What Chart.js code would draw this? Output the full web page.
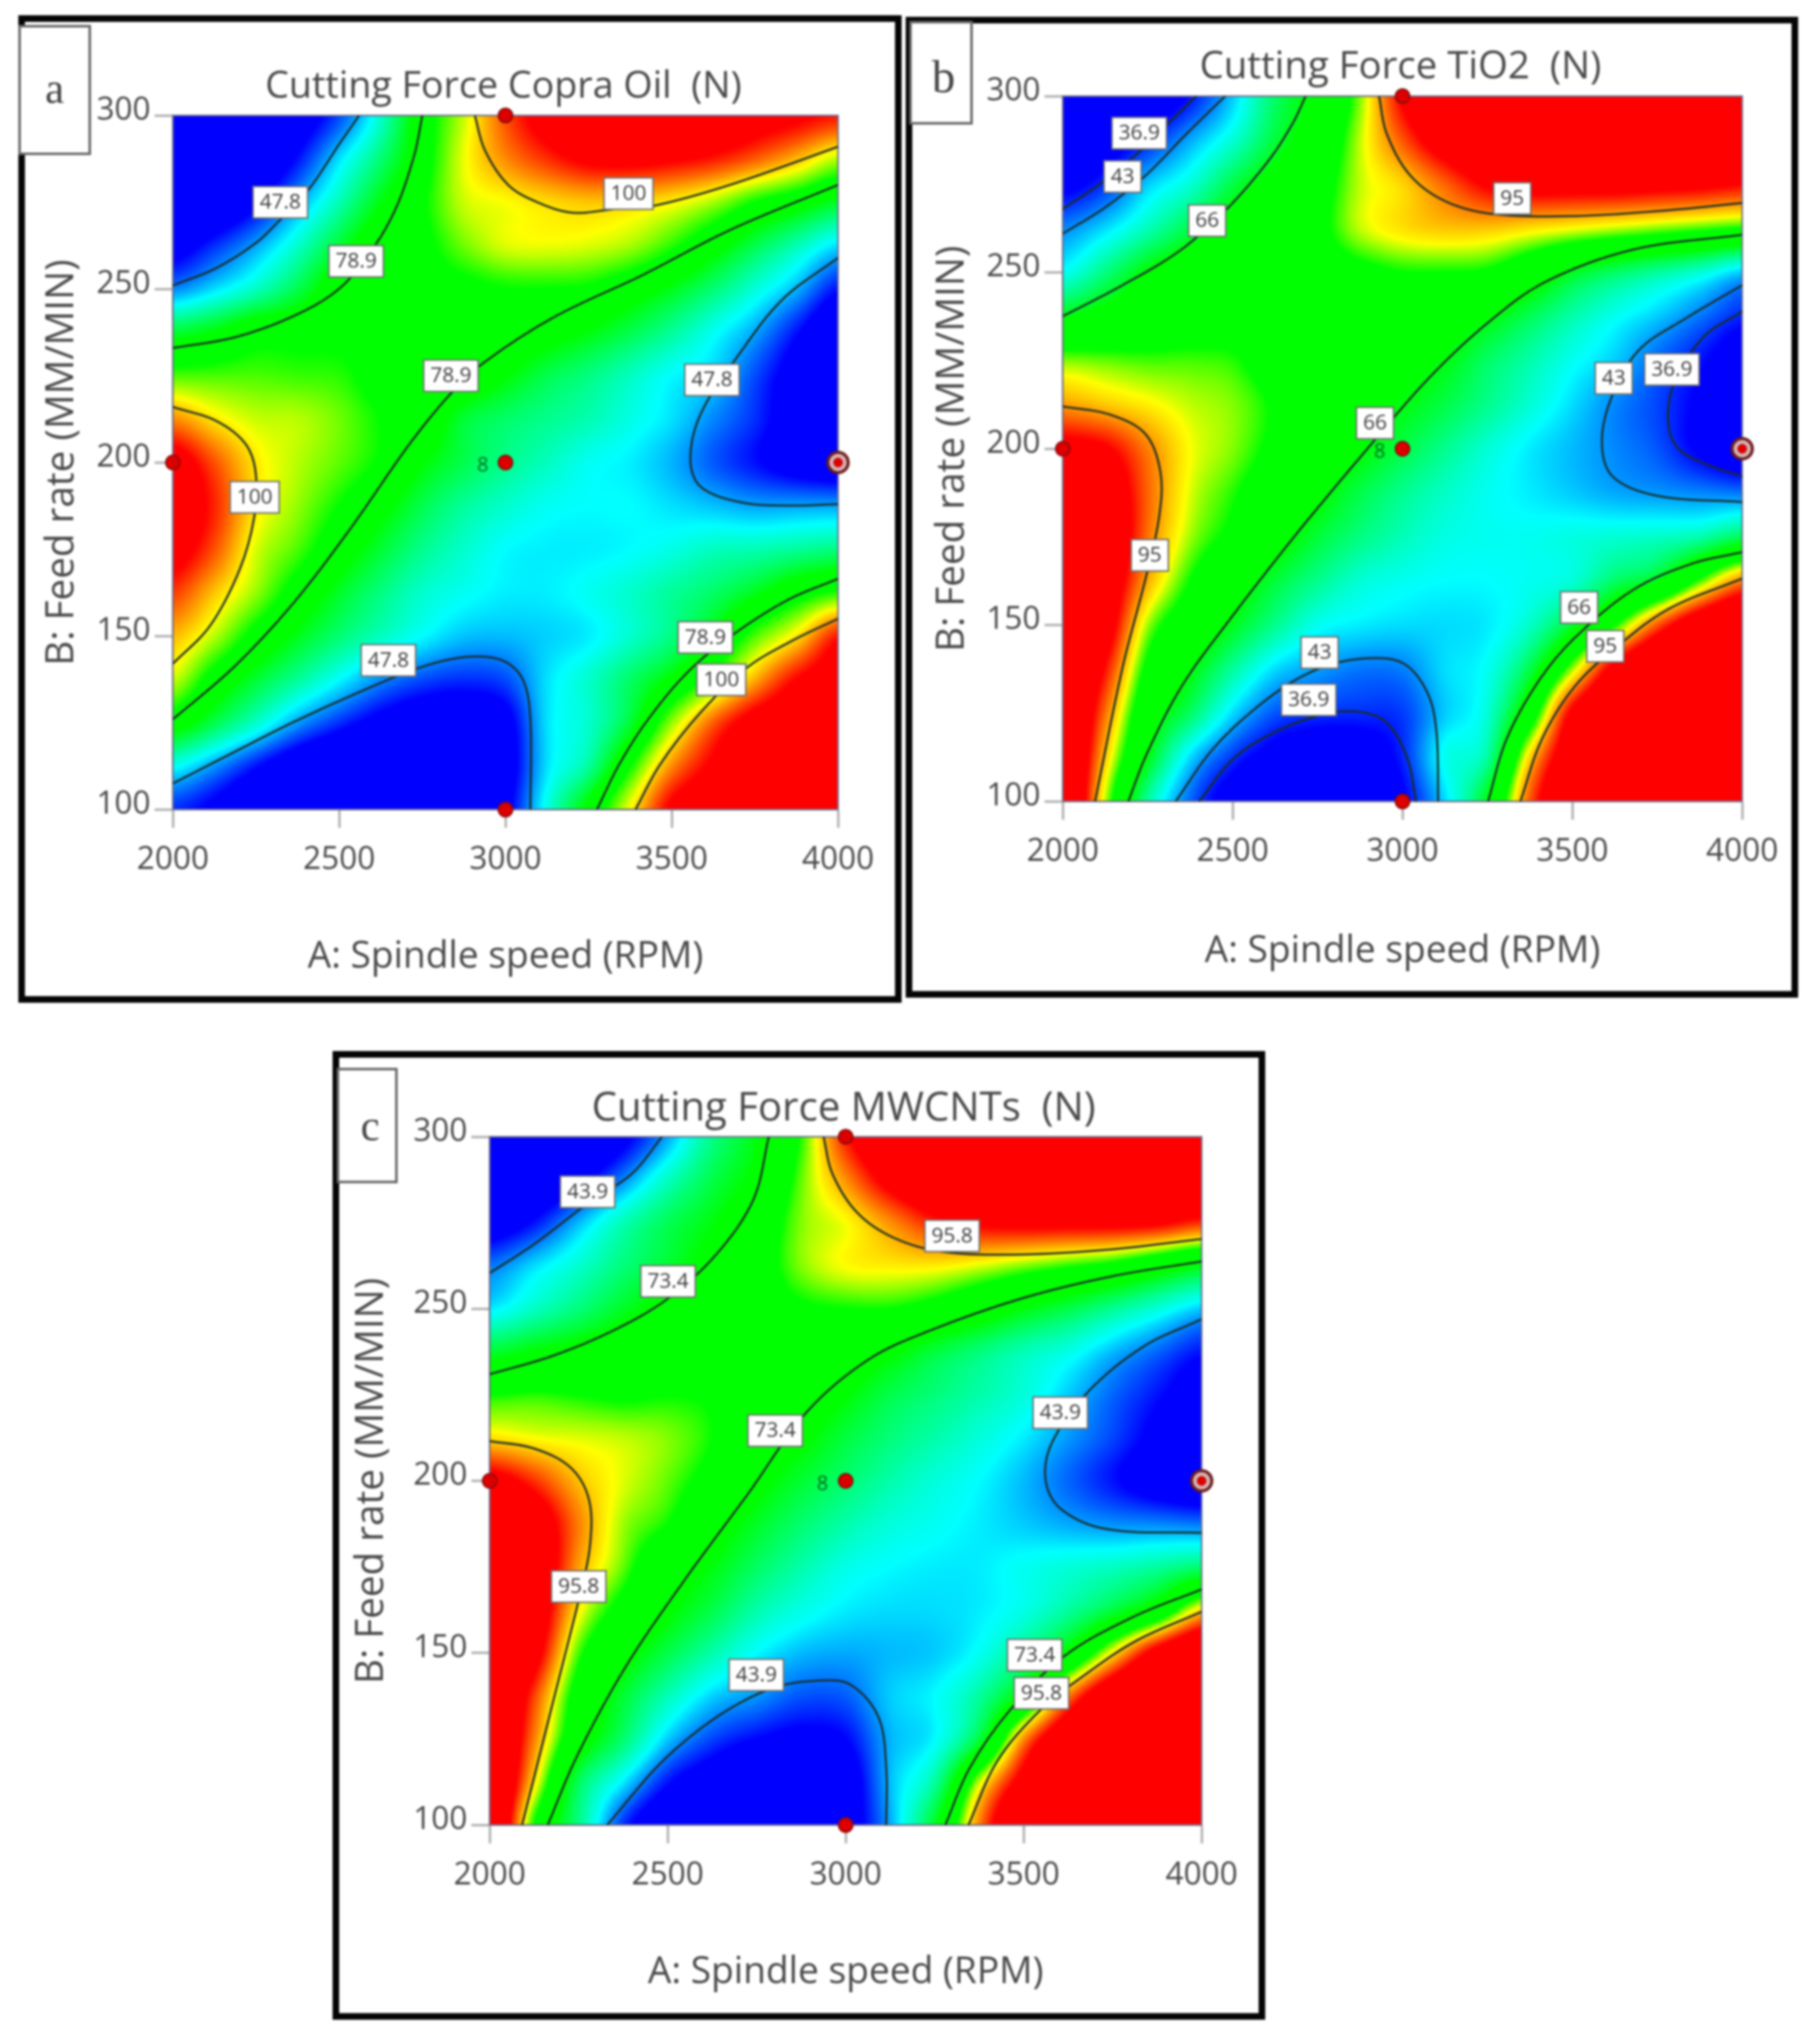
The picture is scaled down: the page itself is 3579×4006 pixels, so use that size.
<!DOCTYPE html>
<html><head><meta charset="utf-8">
<script src="https://cdn.jsdelivr.net/npm/chart.js@4"></script>
<style>
html,body{margin:0;padding:0;background:#fff;}
#page{position:relative;width:3579px;height:4006px;overflow:hidden;background:#fff;filter:blur(2px);}
.frame{position:absolute;box-sizing:border-box;border:13px solid #050505;}
.tag{position:absolute;box-sizing:border-box;border:5px solid #666;background:#fff;color:#444;font-family:"Liberation Serif",serif;font-size:84px;display:flex;align-items:center;justify-content:center;z-index:5;}
canvas{position:absolute;top:0;}
</style></head><body><div id="page"></div>
<script>
const xValues=[2000,2125,2250,2375,2500,2625,2750,2875,3000,3125,3250,3375,3500,3625,3750,3875,4000];
const yValues=[300,287.5,275,262.5,250,237.5,225,212.5,200,187.5,175,162.5,150,137.5,125,112.5,100];
const xTicks=[2000,2500,3000,3500,4000];
const yTicks=[100,150,200,250,300];
const designX=[2000,3000,3000,3000];
const designY=[200,300,200,100];
const replicateX=[4000], replicateY=[200];

const fieldA=[
[15,20,25,32,42,58,79,95,113,125,130,132,132,130,125,122,118],
[18,22,28,38,52,65,80,97,108,116,122,123,121,118,112,104,94],
[24,28,36,48,60,73,83,95,98,101,103,102,99,93,84,78,71],
[33,40,48,58,70,80,82,90,96,97,96,93,86,77,68,60,52],
[46,52,59,68,79,81,81,82,84,84,83,78,72,65,57,49,38],
[70,74,80,81,82,82,82,82,81,77,73,68,62,55,48,38,28],
[88,88,88,87,86,81,81,80,74,68,64,59,54,51,42,33,25],
[108,100,95,94,90,84,80,70,66,63,60,56,52,46,40,32,26],
[126,113,100,94,89,83,74,68,63,59,55,53,49,43,38,33,30],
[128,117,100,92,84,76,68,62,58,55,54,54,52,50,48,48,48],
[125,113,96,88,78,70,63,58,54,53,53,54,56,59,60,62,64],
[115,103,92,80,71,64,58,55,53,53,55,58,62,66,72,80,86],
[104,94,81,72,65,59,54,50,49.5,51,53,58,64,74,88,100,118],
[95,80,70,62,54,46.5,42,40,42,52,58,66,75,88,105,120,126],
[78,68,58,47.5,40,34,30,30,34,52,58,70,92,112,125,130,132],
[55,47,38,30,25,22,20,22,32,52,62,84,108,122,130,135,135],
[40,35,28,22,18,15,15,18,34,56,76,98,122,128,135,140,140]];
const stopsA=[37,54,74,84,98,120];

const fieldB=[
[20,24,28,35,46,60,69,84,107,120,125,125,125,125,125,125,125],
[26,30,36,44,52,63,72,86,100,112,118,120,120,120,120,120,120],
[32,37,46,52,62,70,76,86,91,99,107,110,110,110,109,108,106],
[42,47,54,62,70,76,78,86,90,92,92,90,88,86,84,82,80],
[50,58,67,72,75,76,76,78,80,80,79,73,65,60,56,52,46],
[66,70,73,75,76,76,76,75,73,71,67,61,55,50,46,41,36],
[84,83,82,82,81,76,74,72,69,66,60,55,50,46,40,35,30],
[95,92,89,86,84,79,71,68,66,62,57,52,47,42,38,33,28],
[110,107,97,88,84,78,71,67,62,57,52,48,45,42,39,33,28],
[122,115,99,87,81,74,68,62,57,53,50,48,46,44,43,42,41],
[125,118,98,85,78,70,63,58,54,51,50,50,51,52,53,55,61],
[125,115,94,80,71,63,57,52,50,49,49,50,52,60,66,82,97],
[125,112,85,74,65,57,50,48,47,47,48,53,64,80,100,115,122],
[125,105,78,67,56,47,43.5,41,41.5,47,50,62,85,110,122,125,125],
[125,98,72,60,47,39,37,36.5,37.5,46,52,74,108,122,125,125,125],
[125,92,66,47,37,31,28,29,36,50,56,91,115,125,125,125,125],
[125,86,56,40,30,24,22,24,33,47,66,100,120,125,125,125,125]];
const stopsB=[34,49,67,80,88,106];

const fieldC=[
[18,22,26,33,45,60,70,85,106,118,124,125,125,125,125,125,125],
[23,27,33,43,55,65,73,87,99,111,118,120,120,120,120,120,120],
[30,36,46,56,64,70,78,88,92,99,106,109,110,110,110,109,105],
[42,48,54,61,67,74,80,88,92,93,93,91,88,85,82,76,70],
[49,55,61,68,74,79,80,83,84,84,81,76,70,65,59,53,47],
[67,71,74,77,79,80,80,79,76,72,66,61,56,52,46,41,36],
[84,85,84,83,84,83,79,76,71,65,61,57,53,47,41,36,31],
[94,92,91,90,88,84,76,72,66,61,57,53,49,44,39,33,28],
[112,105,96,91,87,81,73,67,62,57,53,50,46,41,36,31,28],
[122,115,100,89,84,75,68,62,57,53,51,49,47,45,43.5,43,42],
[125,118,98,87,76,70,63,57,52,50,49,49,51,53,55,58,62],
[125,116,93,81,72,65,57,52,49,48,48,49,52,58,66,76,94],
[125,112,86,74,65,57,50,46,45,46,47,51,60,73,93,112,122],
[125,104,80,67,56,47.5,43.9,40,40.5,47,50,58,73.5,100,118,125,125],
[125,100,76,62,47,39,35,33,35,45.5,50,66,99,118,125,125,125],
[125,94,64,49,36,30,26,25,30,46,58,90,112,125,125,125,125],
[125,84,60,38,28,22,20,22,30,45,68,100,122,130,130,130,130]];
const stopsC=[35,50,71,84,92,108];

const linesA=[
[[2000,251],[2130,256],[2253,263.5],[2323,270],[2411,279],[2499,291.6],[2560,300]],
[[2000,233],[2183,236],[2358,242],[2499,250],[2604,262],[2674,274],[2727,289],[2750,300]],
[[2000,126],[2183,141],[2358,159],[2534,181],[2709,205],[2832,219.5],[2938,229],[3148,242],[3412,254],[3675,267],[4000,280]],
[[2908,300],[2938,290],[3008,280],[3096,275],[3201,272],[3324,273],[3447,274],[3675,280],[4000,291]],
[[2000,216],[2130,212],[2218,205.4],[2249,197],[2244,184],[2200,169],[2112,153],[2000,142]],
[[4000,259],[3833,247],[3701,231],[3587,214],[3556,201],[3587,193],[3710,188.5],[3851,187.6],[4000,188]],
[[2000,107.5],[2183,116.5],[2358,125],[2569,134.2],[2745,141],[2885,144],[2990,143],[3052,137.5],[3075,126],[3075,100]],
[[3275,100],[3342,113],[3429,126],[3552,140],[3693,151],[3851,160.5],[4000,166.5]],
[[3391,100],[3465,113],[3587,128],[3728,141],[3869,149],[4000,155]]];
const linesB=[
[[2000,268],[2107,275],[2211,283],[2297,291],[2392,300]],
[[2000,261],[2124,268.4],[2245,277.6],[2366,289.5],[2478,300]],
[[2000,237.6],[2176,246.4],[2349,256.5],[2487,268.4],[2608,282],[2677,292.3],[2715,300]],
[[2193,100],[2245,113],[2349,132.5],[2487,151],[2694,176.6],[2901,200.5],[3074,219.7],[3247,235.4],[3420,247.3],[3679,256.5],[4000,260.7]],
[[2931,300],[2953,289.5],[3022,277.6],[3126,270.2],[3264,266.6],[3506,266],[3765,267.5],[4000,269.7]],
[[2000,212],[2142,209.6],[2245,204],[2288,193],[2283,180.3],[2245,163.7],[2176,138],[2095,100]],
[[4000,246.4],[3834,237],[3696,228],[3618,215.2],[3587,202.3],[3618,192.2],[3748,186.7],[4000,184.9]],
[[4000,239],[3886,231.7],[3800,218.8],[3782,207.8],[3808,200.5],[3886,195.9],[4000,192.2]],
[[2332,100],[2452,116],[2625,130.7],[2763,138],[2901,140.6],[3005,139],[3074,130.7],[3100,119.7],[3105,100]],
[[2401,100],[2504,112.3],[2625,119.7],[2763,124.6],[2867,125.5],[2953,122.4],[3014,112.3],[3040,100]],
[[3252,100],[3307,117.8],[3402,134.3],[3506,146.3],[3679,160],[3851,167.4],[4000,170.7]],
[[3347,100],[3411,117.8],[3506,132.5],[3627,143.5],[3782,154.5],[4000,163.2]]];
const linesC=[
[[2000,260.4],[2125,268.8],[2279,280.9],[2399,289.2],[2484,300]],
[[2000,231],[2176,236.3],[2347,243.7],[2501,253],[2638,266],[2741,281.8],[2784,300]],
[[2163,100],[2245,120],[2382,146],[2553,172],[2724,196],[2895,220.5],[3066,235.4],[3237,243.7],[3494,253],[3750,259.5],[4000,263.8]],
[[2938,300],[2963,289.2],[3032,278],[3134,270.7],[3271,266.6],[3494,265.8],[3750,267.3],[4000,270.3]],
[[2000,211.6],[2125,209.4],[2228,203.8],[2279,194.5],[2282,181.5],[2253,166.7],[2176,135],[2091,100]],
[[4000,247],[3836,239],[3682,226],[3579,211],[3562,200],[3605,191.8],[3733,186],[4000,184.9]],
[[2330,100],[2484,118.4],[2638,131.4],[2792,139.7],[2929,142],[3015,140.7],[3092,131.4],[3114,116.5],[3114,100]],
[[3280,100],[3348,116.5],[3460,133.2],[3613,149],[3802,160.2],[4000,168.5]],
[[3345,100],[3425,118.4],[3545,133.2],[3682,144.4],[3819,153.7],[4000,162]]];

const labelsA=[[2323,275,"47.8"],[2551,258,"78.9"],[3370,277.5,"100"],[2836,225,"78.9"],[3621,223.8,"47.8"],[2246,190,"100"],[2648,143,"47.8"],[3601,149.6,"78.9"],[3649,137.4,"100"]];
const labelsB=[[2225,289.5,"36.9"],[2176,277.2,"43"],[2425,264.7,"66"],[3323,271,"95"],[2919,207.3,"66"],[3622,220,"43"],[3793,222.5,"36.9"],[2256,169.8,"95"],[3520,155,"66"],[3597,144,"95"],[2756,142.2,"43"],[2724,128.8,"36.9"]];
const labelsC=[[2275,284,"43.9"],[2501,258,"73.4"],[3299,271.2,"95.8"],[2802,214.6,"73.4"],[3603,219.8,"43.9"],[2250,169.3,"95.8"],[3531,149.4,"73.4"],[3550,138.3,"95.8"],[2749,143.6,"43.9"]];

const titleA="Cutting Force Copra Oil  (N)", titleB="Cutting Force TiO2  (N)", titleC="Cutting Force MWCNTs  (N)";
const xTitle="A: Spindle speed (RPM)", yTitle="B: Feed rate (MM/MIN)";

const page=document.getElementById('page');
const FONT='"Open Sans"', TICK=62, AXT=73, AYT=76, TXT='#484848';

function addBox(cls,l,t,r,b,txt,extra){const d=document.createElement('div');d.className=cls;d.style.cssText+=`left:${l}px;top:${t}px;width:${r-l}px;height:${b-t}px;`+(extra||'');if(txt)d.textContent=txt;page.appendChild(d);}

const colorStops=[[0,0,255],[0,255,255],[0,255,0],[0,255,0],[255,255,0],[255,0,0]];
function colorOf(v,st,out,i){
  let k=0;
  if(v<=st[0])k=-1; else if(v>=st[5])k=5; else while(v>st[k+1])k++;
  let c;
  if(k<0)c=colorStops[0]; else if(k>=5)c=colorStops[5];
  else{const t=(v-st[k])/(st[k+1]-st[k]),a=colorStops[k],b=colorStops[k+1];
    out[i]=a[0]+(b[0]-a[0])*t;out[i+1]=a[1]+(b[1]-a[1])*t;out[i+2]=a[2]+(b[2]-a[2])*t;out[i+3]=255;return;}
  out[i]=c[0];out[i+1]=c[1];out[i+2]=c[2];out[i+3]=255;
}
function cr(a,b,c,d,t){return b+0.5*t*(c-a+t*(2*a-5*b+4*c-d+t*(3*(b-c)+d-a)));}

const fieldPlugin={id:'field',
 afterLayout(chart){const A=chart.chartArea,T=chart.titleBlock;if(T){T.left=A.left-4;T.right=A.right-4;}},
 beforeDatasetsDraw(chart){
  const ds=chart.data.datasets[0],grid=ds.grid,st=ds.stops,xs=chart.scales.x,ys=chart.scales.y,A=chart.chartArea;
  const w=Math.round(A.right-A.left),h=Math.round(A.bottom-A.top);
  const off=document.createElement('canvas');off.width=w;off.height=h;
  const oc=off.getContext('2d'),img=oc.createImageData(w,h),d=img.data;
  const nx=xValues.length,ny=yValues.length;
  const cl=(i,n)=>i<0?0:(i>n-1?n-1:i);
  const dx=xValues[1]-xValues[0],dy=yValues[0]-yValues[1];
  for(let py=0;py<h;py++){
    const gy=(yValues[0]-ys.getValueForPixel(A.top+py+.5))/dy;
    const j=Math.min(ny-2,Math.max(0,Math.floor(gy))),ty=gy-j;
    const r0=grid[cl(j-1,ny)],r1=grid[j],r2=grid[j+1],r3=grid[cl(j+2,ny)];
    for(let px=0;px<w;px++){
      const gx=(xs.getValueForPixel(A.left+px+.5)-xValues[0])/dx;
      const i=Math.min(nx-2,Math.max(0,Math.floor(gx))),tx=gx-i;
      const a=cl(i-1,nx),b=i,c=i+1,e=cl(i+2,nx);
      const v=cr(cr(r0[a],r0[b],r0[c],r0[e],tx),cr(r1[a],r1[b],r1[c],r1[e],tx),cr(r2[a],r2[b],r2[c],r2[e],tx),cr(r3[a],r3[b],r3[c],r3[e],tx),ty);
      colorOf(v,st,d,(py*w+px)*4);
    }
  }
  oc.putImageData(img,0,0);
  chart.ctx.drawImage(off,A.left,A.top);
  chart.ctx.save();chart.ctx.strokeStyle='#6a6a8a';chart.ctx.lineWidth=3;chart.ctx.strokeRect(A.left,A.top,w,h);chart.ctx.restore();
}};
const labelPlugin={id:'clabels',afterDatasetsDraw(chart,args,opts){
  const c=chart.ctx,xs=chart.scales.x,ys=chart.scales.y;
  c.save();c.textAlign='center';c.textBaseline='middle';
  for(const [x,y,t] of opts.items){
    const px=xs.getPixelForValue(x),py=ys.getPixelForValue(y);
    c.font=`41px ${FONT}`;
    const w=c.measureText(t).width+26,h=62;
    c.fillStyle='#fff';c.fillRect(px-w/2,py-h/2,w,h);
    c.strokeStyle='#6e6e6e';c.lineWidth=3;c.strokeRect(px-w/2,py-h/2,w,h);
    c.fillStyle='#3c3c3c';c.fillText(t,px,py+1);
  }
  const px=xs.getPixelForValue(opts.eightX),py=ys.getPixelForValue(opts.eightY);
  c.font=`40px ${FONT}`;c.fillStyle='#066a28';c.fillText('8',px,py);
  c.restore();
}};

function panel(cfg){
  const {l,r,t,b,W,field,stops,lines,labels,title,TIT,titleY,xTitleY,yTitleX,eightX}=cfg;
  const cx=(l+r)/2,left=cx-W/2,height=xTitleY+AXT*0.6;
  const cv=document.createElement('canvas');
  cv.style.left=left+'px';cv.style.width=W+'px';cv.style.height=height+'px';cv.width=W;cv.height=height;
  page.appendChild(cv);
  const padLeft=yTitleX-AYT*0.6-left;
  const padRight=W-(r-left);
  const points=[];
  yValues.forEach((y,j)=>xValues.forEach((x,i)=>points.push({x,y,v:field[j][i]})));
  const datasets=[{label:'field',data:points,grid:field,stops,pointRadius:0,showLine:false,order:9}];
  lines.forEach(L=>datasets.push({label:'contour',data:L.map(p=>({x:p[0],y:p[1]})),showLine:true,pointRadius:0,borderColor:'#1c2c28',borderWidth:4,tension:0.35,fill:false,order:5}));
  datasets.push({label:'design',data:designX.map((x,i)=>({x,y:designY[i]})),pointRadius:14,pointBackgroundColor:'#dc0000',pointBorderColor:'#8a0a0a',pointBorderWidth:3,showLine:false,clip:false,order:2});
  datasets.push({label:'replicate ring',data:replicateX.map((x,i)=>({x,y:replicateY[i]})),pointRadius:20,pointBackgroundColor:'#d8b4b4',pointBorderColor:'#6a1c1c',pointBorderWidth:6,showLine:false,clip:false,order:2});
  datasets.push({label:'replicate',data:replicateX.map((x,i)=>({x,y:replicateY[i]})),pointRadius:9,pointBackgroundColor:'#e00000',pointBorderColor:'#a00000',pointBorderWidth:1,showLine:false,clip:false,order:1});
  new Chart(cv,{type:'scatter',data:{datasets},plugins:[fieldPlugin,labelPlugin],options:{
    responsive:false,animation:false,events:[],devicePixelRatio:1,
    layout:{padding:{left:padLeft,right:padRight,top:0,bottom:0}},
    plugins:{legend:{display:false},tooltip:{enabled:false},
      title:{display:true,text:title,color:TXT,font:{family:FONT,size:TIT,weight:'normal',lineHeight:1.2},
        padding:{top:titleY-TIT*0.6,bottom:t-(titleY-TIT*0.6)-TIT*1.2}},
      clabels:{items:labels,eightX,eightY:199}},
    scales:{
      x:{type:'linear',min:2000,max:4000,
        afterBuildTicks:s=>{s.ticks=xTicks.map(v=>({value:v}));},
        afterFit:s=>{s.height=height-b;},
        grid:{drawOnChartArea:false,drawTicks:true,tickLength:36,tickWidth:5,tickColor:'#b4b4b4'},
        border:{display:true,color:'#b4b4b4',width:4},
        ticks:{color:TXT,font:{family:FONT,size:TICK},padding:26,maxRotation:0,autoSkip:false,callback:v=>String(v)},
        title:{display:true,text:xTitle,color:TXT,font:{family:FONT,size:AXT,lineHeight:1.2},padding:0}},
      y:{type:'linear',min:100,max:300,
        afterBuildTicks:s=>{s.ticks=yTicks.map(v=>({value:v}));},
        afterFit:s=>{s.width=l-left-padLeft;},
        grid:{drawOnChartArea:false,drawTicks:true,tickLength:36,tickWidth:5,tickColor:'#b4b4b4'},
        border:{display:true,color:'#b4b4b4',width:4},
        ticks:{color:TXT,font:{family:FONT,size:TICK},padding:8,labelOffset:-10,autoSkip:false,callback:v=>String(v)},
        title:{display:true,text:yTitle,color:TXT,font:{family:FONT,size:AYT,lineHeight:1.2},padding:0}}
    }}});
}

addBox('frame',36,30,1773,1972);
addBox('frame',1781,33,3536,1962);
addBox('frame',654,2067,2488,3972);
panel({l:340,r:1648,t:227,b:1592,W:1860,field:fieldA,stops:stopsA,lines:linesA,labels:labelsA,title:titleA,TIT:74,titleY:171,xTitleY:1882,yTitleX:122,eightX:2932});
panel({l:2090,r:3426,t:189,b:1576,W:1860,field:fieldB,stops:stopsB,lines:linesB,labels:labelsB,title:titleB,TIT:75.5,titleY:132,xTitleY:1871,yTitleX:1873,eightX:2933});
panel({l:963,r:2363,t:2235,b:3589,W:2000,field:fieldC,stops:stopsC,lines:linesC,labels:labelsC,title:titleC,TIT:79,titleY:2180,xTitleY:3879,yTitleX:731,eightX:2935});
addBox('tag',36,49,179,305,'a','padding-bottom:8px;');
addBox('tag',1788,41,1913,245,'b','padding:14px 0 0 10px;font-size:92px;');
addBox('tag',662,2100,782,2327,'c','padding-left:12px;');
</script></body></html>
